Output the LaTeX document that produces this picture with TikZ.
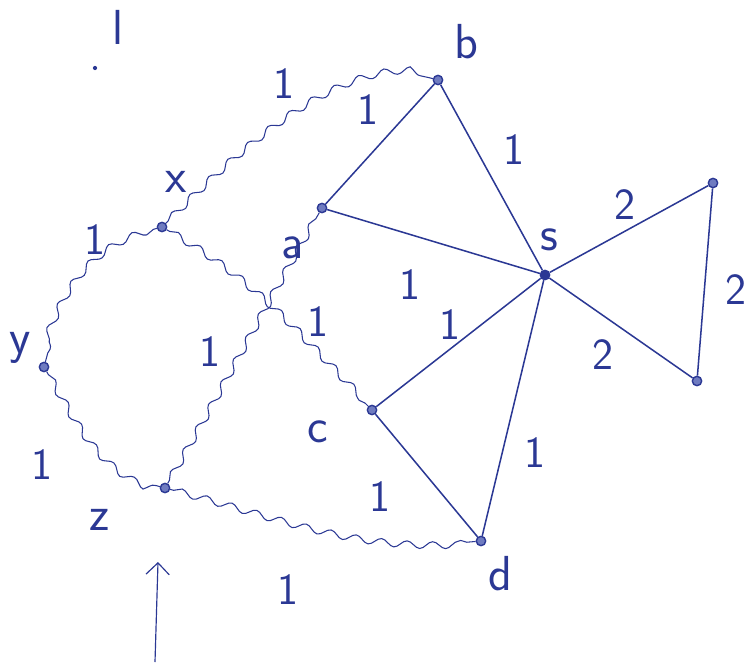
\documentclass[tikz,border=0pt]{standalone}
\usepackage{fontspec}
\usepackage{xcolor}
\usepackage{tikz}
\usetikzlibrary{arrows.meta,decorations.pathmorphing}
\definecolor{ink}{HTML}{2B3894}
\definecolor{inkLight}{HTML}{6F7BC0}

\begin{document}
\begin{tikzpicture}[x=0.03cm,y=-0.03cm,
  vtx/.style={circle, draw=ink, fill=inkLight, line width=1.2pt, inner sep=0pt, minimum size=8pt},
  lbl/.style={text=ink, font=\sffamily\fontsize{42}{44}\selectfont, inner sep=0pt},
  wt/.style={text=ink, font=\sffamily\fontsize{38}{40}\selectfont, inner sep=0pt},
  plain/.style={draw=ink, line width=1.3pt},
  wavy/.style={draw=ink, line width=0.9pt, decorate, decoration={snake, amplitude=3pt, segment length=22pt, pre length=3pt, post length=3pt}}]
  \useasboundingbox (0,0) rectangle (747,665);
  % vertices
  \node[vtx] (b) at (438,80) {};
  \node[vtx] (a) at (322,208) {};
  \node[vtx, fill=ink] (s) at (545,275) {};
  \node[vtx] (x) at (162,227) {};
  \node[vtx] (y) at (44,367) {};
  \node[vtx] (z) at (165,488) {};
  \node[vtx] (c) at (372,410) {};
  \node[vtx] (d) at (481,541) {};
  \node[vtx] (p) at (713,183) {};
  \node[vtx] (q) at (697,381) {};
  % names
  \node[lbl] (lb) at (466,42) {b};
  \node[lbl] (la) at (293,248) {a};
  \node[lbl] (ls) at (549,240) {s};
  \node[lbl] (lx) at (176,182) {x};
  \node[lbl] (ly) at (20,348) {y};
  \node[lbl] (lz) at (100,520) {z};
  \node[lbl] (lc) at (318,432) {c};
  \node[lbl] (ld) at (500,574) {d};
  \node[lbl] (ll) at (118,27) {l};
  \fill[ink] (95,68) circle (1.8pt);
  % plain edges
  \draw[plain] (b) -- (a);
  \draw[plain] (b) -- (s);
  \draw[plain] (a) -- (s);
  \draw[plain] (s) -- (c);
  \draw[plain] (s) -- (d);
  \draw[plain] (c) -- (d);
  \draw[plain] (s) -- (p);
  \draw[plain] (s) -- (q);
  \draw[plain] (p) -- (q);
  % wavy edges
  \draw[wavy] (x) to[out=45,in=165,looseness=0.8] (b);
  \draw[wavy] (x) to[out=195,in=75] (y);
  \draw[wavy] (y) to[out=-60,in=165] (z);
  \draw[wavy] (x) to[out=-30,in=135] (c);
  \draw[wavy] (z) to[out=60,in=-120] (a);
  \draw[wavy] (z) to[out=-15,in=185] (d);
  % weights
  \node[wt] (wba) at (368,110) {1};
  \node[wt] (wbs) at (514,150) {1};
  \node[wt] (wxb) at (284,84) {1};
  \node[wt] (was) at (410,285) {1};
  \node[wt] (wsc) at (450,325) {1};
  \node[wt] (wsd) at (535,453) {1};
  \node[wt] (wcd) at (380,497) {1};
  \node[wt] (wsp) at (625,205) {2};
  \node[wt] (wsq) at (603,355) {2};
  \node[wt] (wpq) at (736,290) {2};
  \node[wt] (wxy) at (95,240) {1};
  \node[wt] (wyz) at (42,465) {1};
  \node[wt] (wxc) at (318,322) {1};
  \node[wt] (wza) at (210,352) {1};
  \node[wt] (wzd) at (288,590) {1};
  % arrow
  \coordinate (tail) at (155,662);
  \coordinate (head) at (158,562);
  \draw[-{Straight Barb[length=3.5mm]}, draw=ink, line width=1pt] (tail) -- (head);
\end{tikzpicture}
\end{document}
